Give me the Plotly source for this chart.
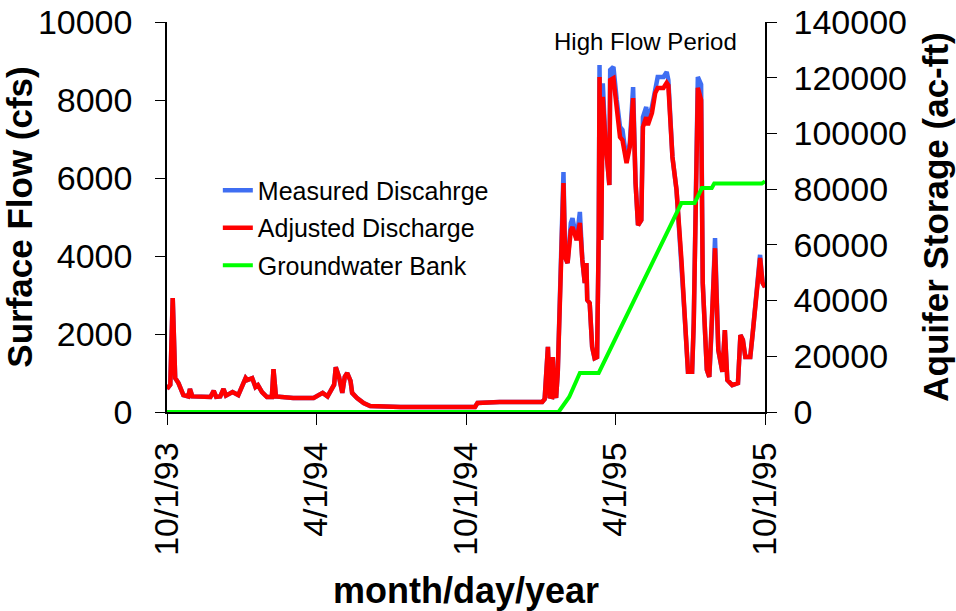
import plotly.graph_objects as go

# ---------------- data ----------------
flow_dates = [
    "1993-10-01", "1993-10-05", "1993-10-08", "1993-10-10", "1993-10-11", "1993-10-15",
    "1993-10-21", "1993-10-27", "1993-10-29", "1993-11-01", "1993-11-23", "1993-11-27",
    "1993-11-30", "1993-12-05", "1993-12-09", "1993-12-12", "1993-12-20", "1993-12-27",
    "1994-01-05", "1994-01-07", "1994-01-13", "1994-01-17", "1994-01-20", "1994-01-25",
    "1994-01-31", "1994-02-06", "1994-02-08", "1994-02-11", "1994-03-04", "1994-03-29",
    "1994-04-09", "1994-04-15", "1994-04-23", "1994-04-25", "1994-04-29", "1994-05-03",
    "1994-05-06", "1994-05-09", "1994-05-13", "1994-05-15", "1994-05-21", "1994-05-29",
    "1994-06-06", "1994-07-13", "1994-09-11", "1994-10-12", "1994-10-15", "1994-11-11",
    "1995-01-02", "1995-01-05", "1995-01-09", "1995-01-11", "1995-01-14", "1995-01-15",
    "1995-01-17", "1995-01-19", "1995-01-21", "1995-01-25", "1995-01-27", "1995-01-28",
    "1995-01-30", "1995-02-02", "1995-02-06", "1995-02-08", "1995-02-13", "1995-02-17",
    "1995-02-20", "1995-02-23", "1995-02-25", "1995-02-26", "1995-03-01", "1995-03-04",
    "1995-03-07", "1995-03-10", "1995-03-12", "1995-03-13", "1995-03-15", "1995-03-17",
    "1995-03-20", "1995-03-22", "1995-03-25", "1995-03-26", "1995-03-30", "1995-04-03",
    "1995-04-07", "1995-04-10", "1995-04-15", "1995-04-19", "1995-04-23", "1995-04-26",
    "1995-04-29", "1995-05-03", "1995-05-05", "1995-05-09", "1995-05-11", "1995-05-16",
    "1995-05-20", "1995-05-23", "1995-05-30", "1995-06-03", "1995-06-05", "1995-06-10",
    "1995-06-15", "1995-06-21", "1995-06-25", "1995-06-29", "1995-07-04", "1995-07-06",
    "1995-07-11", "1995-07-15", "1995-07-17", "1995-07-22", "1995-07-25", "1995-07-28",
    "1995-08-01", "1995-08-05", "1995-08-10", "1995-08-13", "1995-08-16", "1995-08-22",
    "1995-08-29", "1995-09-01", "1995-09-04", "1995-09-07", "1995-09-13", "1995-09-16",
    "1995-09-20", "1995-09-25", "1995-09-28", "1995-10-01",
]

measured_cfs = [
    590, 700, 2920, 1200, 870, 740,
    435, 400, 590, 400, 385, 540,
    390, 400, 590, 420, 510, 435,
    870, 820, 870, 640, 690, 510,
    385, 385, 1100, 400, 360, 360,
    490, 400, 700, 1150, 900, 490,
    900, 1000, 800, 490, 360, 230,
    155, 130, 130, 130, 230, 255,
    255, 330, 1670, 400, 385, 1410,
    500, 360, 1000, 3900, 4920, 6150,
    3970, 3820, 4850, 4970, 4410, 5130,
    3900, 3310, 3820, 2870, 2790, 1670,
    1380, 1410, 4490, 8900, 4410, 8430,
    7050, 6460, 5820, 8770, 8850, 8000,
    7310, 7230, 6460, 6900, 8330, 5870,
    4790, 4920, 7560, 7820, 7490, 7820,
    8330, 8590, 8590, 8720, 8510, 6540,
    5690, 3900, 2440, 1030, 1030, 2280,
    8590, 8400, 3310, 1080, 900, 2180,
    4460, 1590, 1030, 2100, 820, 690,
    740, 1970, 1850, 1410, 1410, 2020,
    2870, 4030, 3310, 3200,
]

adjusted_cfs = [
    590, 700, 2920, 1200, 870, 740,
    435, 400, 590, 400, 385, 540,
    390, 400, 590, 420, 510, 435,
    870, 820, 870, 640, 690, 510,
    385, 385, 1100, 400, 360, 360,
    490, 400, 700, 1150, 900, 490,
    900, 1000, 800, 490, 360, 230,
    155, 130, 130, 130, 230, 255,
    255, 330, 1670, 400, 385, 1410,
    500, 360, 1000, 3900, 4670, 5870,
    3970, 3820, 4670, 4740, 4410, 4850,
    3900, 3310, 3820, 2870, 2790, 1670,
    1380, 1410, 4490, 8590, 4410, 8080,
    7000, 6380, 5820, 8510, 8560, 7800,
    7050, 6970, 6380, 6800, 8050, 5870,
    4790, 4920, 7310, 7560, 7360, 7670,
    8180, 8310, 8310, 8440, 8380, 6540,
    5690, 3900, 2440, 1030, 1030, 2280,
    8310, 8000, 3310, 1080, 900, 2180,
    4200, 1590, 1030, 2100, 820, 690,
    740, 1970, 1850, 1410, 1410, 2020,
    2870, 3950, 3310, 3200,
]

bank_dates = [
    "1993-10-01", "1995-01-22", "1995-02-04", "1995-02-17", "1995-03-12",
    "1995-06-21", "1995-07-07", "1995-07-16", "1995-07-28", "1995-07-31",
    "1995-09-27", "1995-10-01",
]
bank_acft = [0, 0, 5400, 14000, 14000, 75000, 75000, 80400, 80400, 82000, 82000, 82800]

x_tick_vals = ["1993-10-01", "1994-04-01", "1994-10-01", "1995-04-01", "1995-10-01"]
x_tick_text = ["10/1/93", "4/1/94", "10/1/94", "4/1/95", "10/1/95"]
y_tick_vals = [0, 2000, 4000, 6000, 8000, 10000]
y2_tick_vals = [0, 20000, 40000, 60000, 80000, 100000, 120000, 140000]

# ---------------- figure ----------------
FONT = "Liberation Sans, Arial, sans-serif"

fig = go.Figure()
fig.add_trace(go.Scatter(
    x=flow_dates, y=measured_cfs, name="Measured Discahrge", mode="lines",
    line=dict(color="#3f6ef2", width=4.5), legendgroup="a"))
fig.add_trace(go.Scatter(
    x=flow_dates, y=adjusted_cfs, name="Adjusted Discharge", mode="lines",
    line=dict(color="#ff0000", width=4.5), legendgroup="b"))
fig.add_trace(go.Scatter(
    x=bank_dates, y=bank_acft, name="Groundwater Bank", mode="lines",
    line=dict(color="#00ff00", width=4), yaxis="y2", legendgroup="c"))

fig.update_layout(
    width=956, height=611,
    margin=dict(l=167, r=191, t=22, b=199, autoexpand=False),
    paper_bgcolor="white", plot_bgcolor="white",
    font=dict(family=FONT, color="black"),
    showlegend=True,
    legend=dict(x=0.085, y=0.627, xanchor="left", yanchor="top",
                bgcolor="rgba(0,0,0,0)", font=dict(size=25, family=FONT),
                tracegroupgap=2),
    xaxis=dict(
        type="date", range=["1993-10-01", "1995-10-01"], automargin=False,
        tickvals=x_tick_vals, ticktext=x_tick_text, tickangle=-90,
        ticks="outside", ticklen=11, tickcolor="black", tickwidth=1,
        showline=True, linecolor="black", linewidth=1.5, mirror=False,
        showgrid=False, zeroline=False, ticklabeloverflow="allow",
        tickfont=dict(size=34, family=FONT), ticklabelstandoff=4,
        title=dict(text="<b>month/day/year</b>", font=dict(size=36, family=FONT), standoff=25),
    ),
    yaxis=dict(
        range=[0, 10000], tickvals=y_tick_vals, tickformat="d", automargin=False,
        ticks="outside", ticklen=10, tickcolor="black", tickwidth=1,
        showline=True, linecolor="black", linewidth=1.5,
        showgrid=False, zeroline=False, ticklabeloverflow="allow",
        tickfont=dict(size=34, family=FONT), ticklabelstandoff=16,
        title=dict(text="<b>Surface Flow (cfs)</b>", font=dict(size=35, family=FONT), standoff=5),
    ),
    yaxis2=dict(
        range=[0, 140000], tickvals=y2_tick_vals, tickformat="d", automargin=False,
        overlaying="y", side="right",
        ticks="outside", ticklen=10, tickcolor="black", tickwidth=1,
        showline=True, linecolor="black", linewidth=1.5,
        showgrid=False, zeroline=False, ticklabeloverflow="allow",
        tickfont=dict(size=34, family=FONT), ticklabelstandoff=10,
        title=dict(text="<b>Aquifer Storage (ac-ft)</b>", font=dict(size=35, family=FONT), standoff=17),
    ),
    annotations=[dict(
        text="High Flow Period", xref="paper", yref="paper",
        x=0.80, y=0.95, xanchor="center", yanchor="middle",
        showarrow=False, font=dict(size=24, family=FONT, color="black"))],
)

fig.write_html("out.html", config={"displayModeBar": False},
               post_script="document.body.style.margin='0';")
